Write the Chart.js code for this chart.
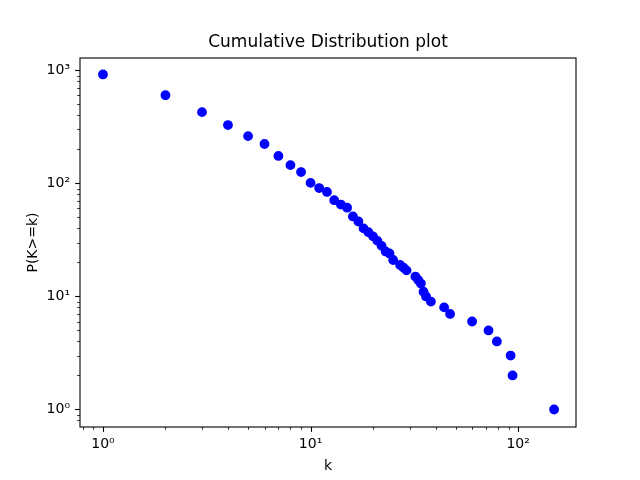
<!DOCTYPE html>
<html>
<head>
<meta charset="utf-8">
<script src="https://cdn.jsdelivr.net/npm/chart.js@4/dist/chart.umd.min.js"></script>
<style>
  body { margin: 0; background: #fff; }
  canvas { display: block; }
</style>
</head>
<body>
<canvas id="cdfChart" width="640" height="480"></canvas>
<script>
// degree k and cumulative count P(K>=k)
const kValues = [1, 2, 3, 4, 5, 6, 7, 8, 9, 10, 11, 12, 13, 14, 15, 16, 17, 18, 19, 20,
  21, 22, 23, 24, 25, 27, 28, 29, 32, 33, 34, 35, 36, 38, 44, 47, 60, 72, 79, 92, 94, 149];
const counts = [920, 603, 427, 328, 262, 223, 175, 145, 126, 101, 91, 84, 71, 65, 61, 51, 46, 40, 37, 34,
  31, 28, 25, 24, 21, 19, 18, 17, 15, 14, 13, 11, 10, 9, 8, 7, 6, 5, 4, 3, 2, 1];

const xDecades = [1, 10, 100];
const xDecadeLabels = ['10⁰', '10¹', '10²'];
const yDecades = [1, 10, 100, 1000];
const yDecadeLabels = ['10⁰', '10¹', '10²', '10³'];

const xRange = [0.775, 190];
const yRange = [0.712, 1286];

const FONT = 'DejaVu Sans';

// major + minor tick values (1..9 x decade) inside the axis range
function logTicks(min, max) {
  const out = [];
  for (let e = Math.floor(Math.log10(min)); e <= Math.ceil(Math.log10(max)); e++) {
    for (let m = 1; m < 10; m++) {
      const v = m * Math.pow(10, e);
      if (v >= min && v <= max) out.push({ value: v });
    }
  }
  return out;
}

function decadeLabel(value, decades, labels) {
  const i = decades.findIndex(d => Math.abs(d - value) / d < 1e-9);
  return i >= 0 ? labels[i] : '';
}

const isDecade = v => Math.abs(Math.log10(v) - Math.round(Math.log10(v))) < 1e-9;

// matplotlib-like ticks (long major, short minor) and the axes frame
const axesFrame = {
  id: 'axesFrame',
  afterLayout(chart) {
    // center the title over the plot area, not the whole canvas
    const t = chart.titleBlock;
    if (t) {
      t.left = chart.chartArea.left;
      t.right = chart.chartArea.right;
    }
  },
  afterDraw(chart) {
    const { ctx, chartArea: a, scales: { x, y } } = chart;
    ctx.save();
    ctx.strokeStyle = '#000';
    x.ticks.forEach(t => {
      const px = Math.round(x.getPixelForValue(t.value)) + 0.5;
      const major = isDecade(t.value);
      ctx.lineWidth = major ? 1.1 : 0.8;
      ctx.beginPath();
      ctx.moveTo(px, a.bottom);
      ctx.lineTo(px, a.bottom + (major ? 4.9 : 2.8));
      ctx.stroke();
    });
    y.ticks.forEach(t => {
      const py = Math.round(y.getPixelForValue(t.value)) + 0.5;
      const major = isDecade(t.value);
      ctx.lineWidth = major ? 1.1 : 0.8;
      ctx.beginPath();
      ctx.moveTo(a.left, py);
      ctx.lineTo(a.left - (major ? 4.9 : 2.8), py);
      ctx.stroke();
    });
    ctx.lineWidth = 1.1;
    ctx.strokeRect(a.left, a.top, a.right - a.left, a.bottom - a.top);
    ctx.restore();
  }
};

new Chart(document.getElementById('cdfChart'), {
  type: 'scatter',
  data: {
    datasets: [{
      data: kValues.map((k, i) => ({ x: k, y: counts[i] })),
      backgroundColor: '#0000ff',
      borderColor: '#0000ff',
      borderWidth: 1.4,
      pointRadius: 4.2,
      pointHoverRadius: 4.2
    }]
  },
  options: {
    responsive: false,
    animation: false,
    layout: { padding: { left: 0, right: 64, top: 0, bottom: 0 } },
    plugins: {
      legend: { display: false },
      tooltip: { enabled: false },
      title: {
        display: true,
        text: 'Cumulative Distribution plot',
        color: '#000',
        font: { family: FONT, size: 17, weight: 'normal', lineHeight: 1.2 },
        padding: { top: 32, bottom: 5.6 }
      }
    },
    scales: {
      x: {
        type: 'logarithmic',
        min: xRange[0],
        max: xRange[1],
        afterBuildTicks: s => { s.ticks = logTicks(xRange[0], xRange[1]); },
        afterFit: s => { s.height = 53; },
        grid: { display: true, drawOnChartArea: false, drawTicks: true, tickLength: 5, color: 'rgba(0,0,0,0)' },
        border: { display: false },
        ticks: {
          autoSkip: false,
          maxRotation: 0,
          padding: 4,
          color: '#000',
          font: { family: FONT, size: 14 },
          callback: v => decadeLabel(v, xDecades, xDecadeLabels)
        },
        title: {
          display: true,
          text: 'k',
          color: '#000',
          font: { family: FONT, size: 14 },
          padding: { top: 0, bottom: 5 }
        }
      },
      y: {
        type: 'logarithmic',
        min: yRange[0],
        max: yRange[1],
        afterBuildTicks: s => { s.ticks = logTicks(yRange[0], yRange[1]); },
        afterFit: s => { s.width = 80; },
        grid: { display: true, drawOnChartArea: false, drawTicks: true, tickLength: 5, color: 'rgba(0,0,0,0)' },
        border: { display: false },
        ticks: {
          autoSkip: false,
          padding: 5,
          color: '#000',
          font: { family: FONT, size: 14 },
          callback: v => decadeLabel(v, yDecades, yDecadeLabels)
        },
        title: {
          display: true,
          text: 'P(K>=k)',
          color: '#000',
          font: { family: FONT, size: 14 },
          padding: { top: 24.6, bottom: 0 }
        }
      }
    }
  },
  plugins: [axesFrame]
});
</script>
</body>
</html>
